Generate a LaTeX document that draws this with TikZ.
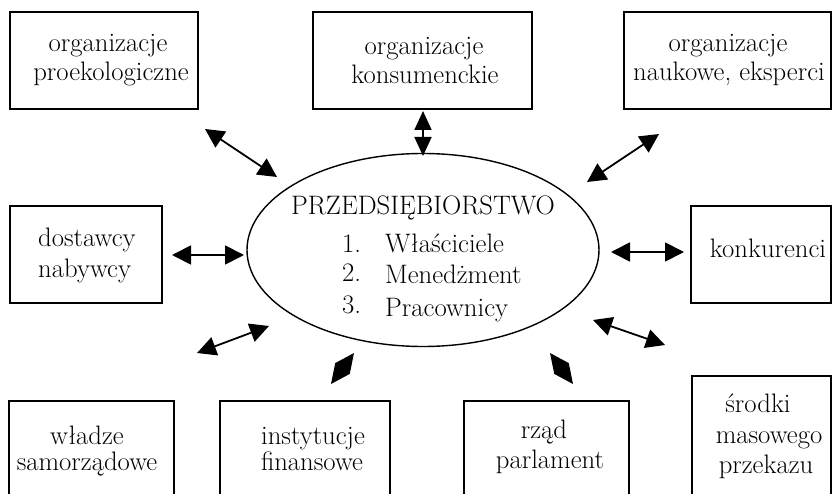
\documentclass[tikz,border=0pt]{standalone}
\usetikzlibrary{arrows.meta,shapes.geometric}
\begin{document}
\begin{tikzpicture}[x=1pt,y=-1pt,
  box/.style={draw,line width=1.3pt,rectangle,inner sep=0pt},
  lbl/.style={anchor=base,inner sep=0pt,font=\fontsize{26.7}{32}\selectfont},
  lblw/.style={lbl,anchor=base west},
  link/.style={line width=1.8pt,{Triangle[length=19pt,width=19pt]}-{Triangle[length=19pt,width=19pt]}},
  kite/.style={line width=1pt,{Triangle[length=19.5pt,width=18pt]}-{Triangle[length=19.5pt,width=18pt]}}]
  \fill[white] (0,0) rectangle (833,494);
  \useasboundingbox (0,0) rectangle (833,494);

  % boxes around the central firm
  \node[box,minimum width=188pt,minimum height=97pt] (eco)   at (104,60.5) {};
  \node[box,minimum width=219pt,minimum height=97pt] (cons)  at (422.5,60.5) {};
  \node[box,minimum width=207pt,minimum height=97pt] (sci)   at (727.5,60.5) {};
  \node[box,minimum width=152pt,minimum height=97pt] (supp)  at (86,254.5) {};
  \node[box,minimum width=140pt,minimum height=97pt] (comp)  at (761,254.5) {};
  \node[box,minimum width=165pt,minimum height=110pt] (local) at (91.5,456) {};
  \node[box,minimum width=170pt,minimum height=110pt] (fin)   at (305,456) {};
  \node[box,minimum width=165pt,minimum height=110pt] (gov)   at (546.5,456) {};
  \node[box,minimum width=139pt,minimum height=135pt] (media) at (761.5,443.5) {};

  % box texts
  \node[lbl] (eco1) at (108,52) {organizacje};
  \node[lbl] (eco2) at (111,81) {proekologiczne};
  \node[lbl] (cons1) at (424,55) {organizacje};
  \node[lbl] (cons2) at (425,84) {konsumenckie};
  \node[lbl] (sci1) at (728,52) {organizacje};
  \node[lbl] (sci2) at (729,81) {naukowe, eksperci};
  \node[lblw] (supp1) at (38,247) {dostawcy};
  \node[lblw] (supp2) at (38,278) {nabywcy};
  \node[lbl] (comp1) at (768,258) {konkurenci};
  \node[lbl] (local1) at (87,444) {władze};
  \node[lbl] (local2) at (87,470) {samorządowe};
  \node[lbl] (fin1) at (313,444) {instytucje};
  \node[lbl] (fin2) at (312,470) {finansowe};
  \node[lbl] (gov1) at (544,438) {rząd};
  \node[lbl] (gov2) at (550,468) {parlament};
  \node[lbl] (media1) at (758,412) {środki};
  \node[lbl] (media2) at (769,443) {masowego};
  \node[lbl] (media3) at (766,473) {przekazu};

  % the firm
  \node[ellipse,draw,line width=1.4pt,minimum width=352pt,minimum height=193pt,inner sep=0pt] (firm) at (423,250) {};
  \node[lbl] (firmT) at (423,215) {PRZEDSIĘBIORSTWO};
  \node[lblw] (n1) at (342,253) {1.};
  \node[lblw] (n2) at (342,282) {2.};
  \node[lblw] (n3) at (342,314) {3.};
  \node[lblw] (w1) at (385,253) {Właściciele};
  \node[lblw] (w2) at (385,284) {Menedżment};
  \node[lblw] (w3) at (385,317) {Pracownicy};

  % arrow end points
  \coordinate (a1s) at (205,129); \coordinate (a1e) at (277,177);
  \coordinate (a2s) at (423,111); \coordinate (a2e) at (423,156);
  \coordinate (a3s) at (659,134); \coordinate (a3e) at (587,182);
  \coordinate (a4s) at (172,255); \coordinate (a4e) at (244,255);
  \coordinate (a5s) at (611,252); \coordinate (a5e) at (684,252);
  \coordinate (a6s) at (197,353); \coordinate (a6e) at (269,326);
  \coordinate (a7s) at (593,320); \coordinate (a7e) at (665,345);
  \coordinate (a8s) at (354,353); \coordinate (a8e) at (331,384);
  \coordinate (a9s) at (550,353); \coordinate (a9e) at (573,384);

  % two-way relations
  \draw[link] (a1s) -- (a1e);
  \draw[link,{Triangle[length=19pt,width=17pt]}-{Triangle[length=19pt,width=17pt]}] (a2s) -- (a2e);
  \draw[link] (a3s) -- (a3e);
  \draw[link] (a4s) -- (a4e);
  \draw[link] (a5s) -- (a5e);
  \draw[link] (a6s) -- (a6e);
  \draw[link] (a7s) -- (a7e);
  \draw[kite] (a8s) -- (a8e);
  \draw[kite] (a9s) -- (a9e);
\end{tikzpicture}
\end{document}
